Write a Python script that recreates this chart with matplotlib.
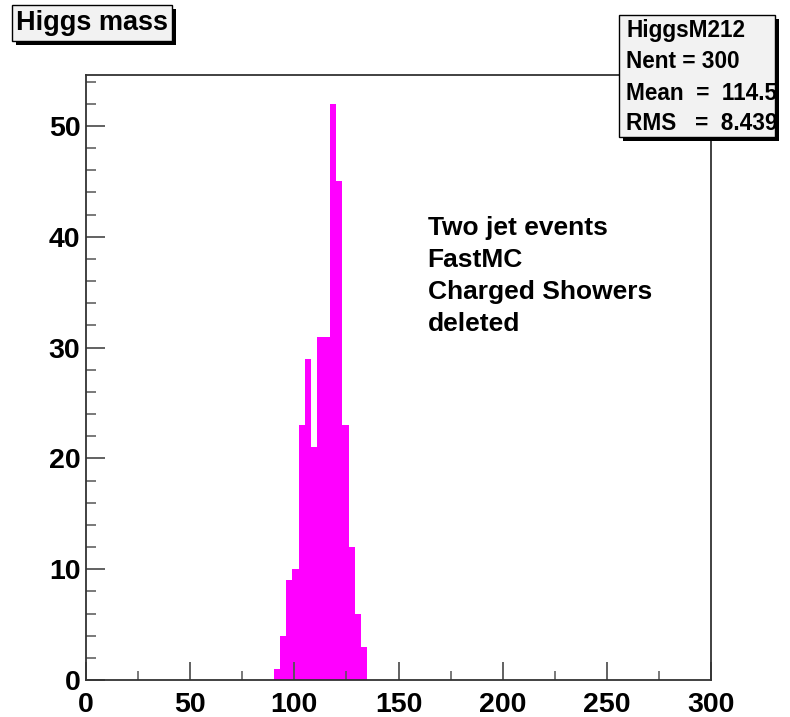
import numpy as np
import matplotlib
matplotlib.use('Agg')
import matplotlib.pyplot as plt
from matplotlib.patches import Rectangle

# histogram contents: 100 bins from 0 to 300, only non-empty bins listed
bin_lo = [90, 93, 96, 99, 102, 105, 108, 111, 114, 117, 120, 123, 126, 129, 132]
counts = [1, 4, 9, 10, 23, 29, 21, 31, 31, 52, 45, 23, 12, 6, 3]
bin_width = 3
x_ticks = [0, 50, 100, 150, 200, 250, 300]
y_ticks = [0, 10, 20, 30, 40, 50]
title = 'Higgs mass'
stats = ['HiggsM212', 'Nent = 300', 'Mean  =  114.5', 'RMS   =  8.439']
note = ['Two jet events', 'FastMC', 'Charged Showers', 'deleted']

plt.rcParams['font.family'] = ['Liberation Sans', 'DejaVu Sans']
plt.rcParams['font.weight'] = 'bold'

fig = plt.figure(figsize=(7.90, 7.17), dpi=100)
ax = fig.add_axes([86/790, 1-680/717, 625/790, 605/717])

ax.bar(bin_lo, counts, width=bin_width, align='edge', color='#ff00ff', edgecolor='none', linewidth=0)
ax.set_xlim(0, 300)
ax.set_ylim(0, max(counts) * 1.05)

ax.set_xticks(x_ticks)
ax.set_xticks(np.arange(0, 301, 25), minor=True)
ax.set_yticks(y_ticks)
ax.set_yticks(np.arange(0, 55, 2), minor=True)
ax.tick_params(axis='both', which='both', direction='in', top=False, right=False, color='#555555')
ax.tick_params(axis='x', which='major', length=13, width=1.3, labelsize=20.5, pad=9)
ax.tick_params(axis='x', which='minor', length=6.5, width=1.1)
ax.tick_params(axis='y', which='major', length=13.7, width=1.3, labelsize=20.5, pad=4)
ax.tick_params(axis='y', which='minor', length=7.2, width=1.1)
for lab in ax.get_xticklabels() + ax.get_yticklabels():
    lab.set_fontweight('bold')
for s in ax.spines.values():
    s.set_color('#333333')
    s.set_linewidth(1.3)

# text on the plot
for i, line in enumerate(note):
    ax.text(164, 40.8 - i * 2.9, line, fontsize=19, fontweight='bold', va='center', ha='left')

# boxes with shadow in figure pixel coords
def box(x0, y0, x1, y1):
    W, H = 790, 717
    sh = Rectangle(((x0 + 4)/W, 1 - (y1 + 4)/H), (x1 - x0)/W, (y1 - y0)/H,
                   transform=fig.transFigure, facecolor='black', edgecolor='none', zorder=5)
    bx = Rectangle((x0/W, 1 - y1/H), (x1 - x0)/W, (y1 - y0)/H,
                   transform=fig.transFigure, facecolor='#f2f2f2', edgecolor='black', lw=1, zorder=6)
    fig.patches.extend([sh, bx])

box(12, 5, 172, 41)
fig.text(16/790, 1 - 23/717, title, fontsize=19.5, fontweight='bold', va='center', ha='left', zorder=7)

box(619, 15, 775, 137)
for i, line in enumerate(stats):
    fig.text(626/790, 1 - (31 + i * 31)/717, line, fontsize=16.3, fontweight='bold',
             va='center', ha='left', zorder=7)

fig.savefig('out.png', dpi=100)
